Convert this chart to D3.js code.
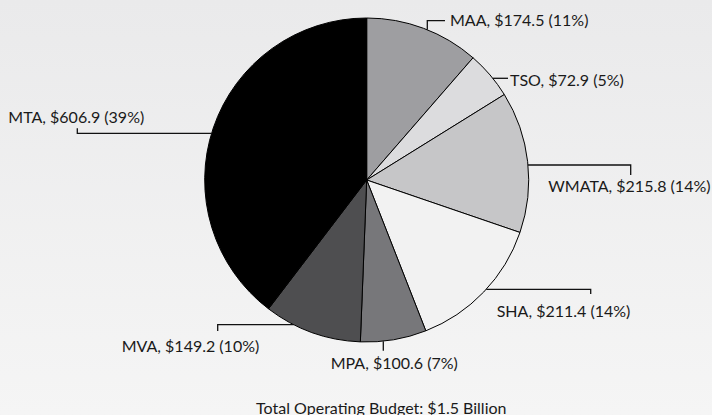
<!DOCTYPE html>
<html>
<head>
<meta charset="utf-8">
<script src="https://cdn.jsdelivr.net/npm/d3@7"></script>
<style>
  body { margin: 0; }
  svg { display: block; }
  text { font-family: Lato, "Noto Sans", sans-serif; font-size: 16px; fill: #1a1a1a; }
</style>
</head>
<body>
<svg width="712" height="415"></svg>
<script>
// agencies and budget (millions)
let agencies = ['MAA', 'TSO', 'WMATA', 'SHA', 'MPA', 'MVA', 'MTA'];
let budget = [174.5, 72.9, 215.8, 211.4, 100.6, 149.2, 606.9];
let shares = [11, 5, 14, 14, 7, 10, 39];
let title = 'Total Operating Budget: $1.5 Billion';

let fills = ['#9e9ea1', '#dcdcde', '#c6c6c8', '#f2f2f2', '#77777a', '#4e4e50', '#000000'];

// leader layout: 'v' leaves the pie vertically at x = at, 'h' horizontally at y = at
let leaders = [
    {dir: 'v', at: 427.3, elbow: [427.3, 20.7], end: [445, 20.7], tx: 450, ty: 25.7},
    {dir: 'h', at: 78.3, elbow: [508, 78.3], end: [508, 78.3], tx: 510, ty: 85.5},
    {dir: 'h', at: 165, elbow: [630.7, 165], end: [630.7, 175], tx: 548.3, ty: 192.3},
    {dir: 'h', at: 289.3, elbow: [590.7, 289.3], end: [590.7, 294], tx: 496.7, ty: 316.7},
    {dir: 'v', at: 383.3, elbow: [383.3, 350.7], end: [383.3, 350.7], tx: 330.7, ty: 369.3},
    {dir: 'h', at: 324.7, elbow: [217.7, 324.7], end: [217.7, 331], tx: 121.7, ty: 351.7},
    {dir: 'h', at: 133.3, elbow: [77.3, 133.3], end: [77.3, 128.3], tx: 8.3, ty: 122.7},
];

let svg = d3.select('svg');
let cx = 366.7, cy = 180, r = 162;

let grad = svg.append('defs').append('linearGradient')
    .attr('id', 'bg').attr('x1', 0).attr('y1', 0).attr('x2', 0).attr('y2', 1);
grad.append('stop').attr('offset', '0%').attr('stop-color', '#eaeaeb');
grad.append('stop').attr('offset', '100%').attr('stop-color', '#f5f5f5');
svg.append('rect').attr('width', 712).attr('height', 415).attr('fill', 'url(#bg)');

let pie = d3.pie().sort(null).value(function(d) {return d})(budget);
let arc = d3.arc().innerRadius(0).outerRadius(r);

let g = svg.append('g').attr('transform', 'translate(' + cx + ',' + cy + ')');
g.selectAll('path').data(pie).enter().append('path')
    .attr('d', arc)
    .attr('fill', function(d, i) {return fills[i]})
    .attr('stroke', '#000')
    .attr('stroke-width', 1)
    .attr('stroke-linejoin', 'round');

// point on the rim where a leader starts
function rimPoint(l, mid) {
    if (l.dir == 'v') {
        let dx = l.at - cx;
        let dy = Math.sqrt(r * r - dx * dx);
        return [l.at, mid < Math.PI / 2 || mid > 3 * Math.PI / 2 ? cy - dy : cy + dy];
    }
    let dy = l.at - cy;
    let dx = Math.sqrt(r * r - dy * dy);
    return [mid < Math.PI ? cx + dx : cx - dx, l.at];
}

let line = d3.line();
svg.selectAll('path.leader').data(pie).enter().append('path')
    .attr('class', 'leader')
    .attr('fill', 'none')
    .attr('stroke', '#111')
    .attr('stroke-width', 1.3)
    .attr('d', function(d, i) {
        let l = leaders[i];
        let mid = (d.startAngle + d.endAngle) / 2;
        return line([rimPoint(l, mid), l.elbow, l.end]);
    });

svg.selectAll('text.label').data(pie).enter().append('text')
    .attr('class', 'label')
    .attr('x', function(d, i) {return leaders[i].tx})
    .attr('y', function(d, i) {return leaders[i].ty})
    .text(function(d, i) {return agencies[i] + ', $' + budget[i].toFixed(1) + ' (' + shares[i] + '%)'});

svg.append('text')
    .attr('x', 381.3)
    .attr('y', 414)
    .attr('text-anchor', 'middle')
    .text(title);
</script>
</body>
</html>
